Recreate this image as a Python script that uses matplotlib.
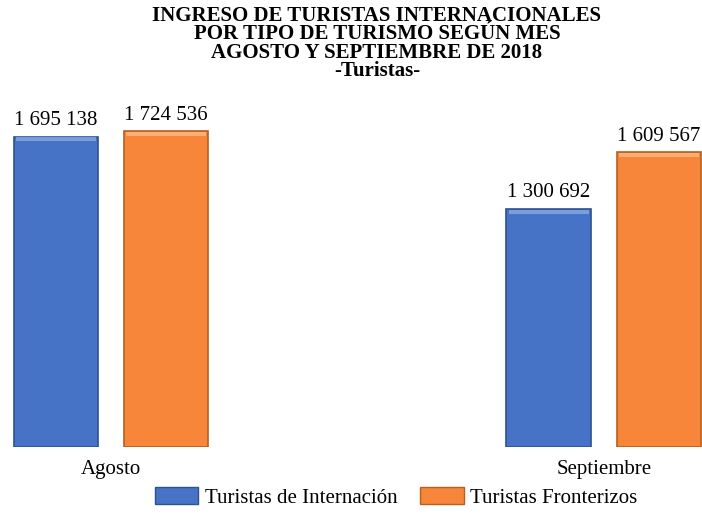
import numpy as np
import matplotlib.pyplot as plt
from matplotlib.patches import Patch

months = ["Agosto", "Septiembre"]
internacion = [1695138, 1300692]
fronterizos = [1724536, 1609567]
series_names = ["Turistas de Internación", "Turistas Fronterizos"]

title = ("INGRESO DE TURISTAS INTERNACIONALES\n"
         "POR TIPO DE TURISMO SEGÚN MES\n"
         "AGOSTO Y SEPTIEMBRE DE 2018\n"
         "-Turistas-")

blue = "#4673C6"
blue_edge = "#2F528F"
orange = "#F8863A"
orange_edge = "#B5601F"

plt.rcParams["font.family"] = ["Liberation Serif", "DejaVu Serif"]


def fmt(v):
    return f"{v:,}".replace(",", " ")


fig = plt.figure(figsize=(7.02, 5.16), dpi=100)
ax = fig.add_axes([0, 0.1337, 1, 0.672])

x = np.arange(len(months))
w = 0.172
off = 0.1116

b1 = ax.bar(x - off, internacion, w, color=blue, edgecolor=blue_edge, linewidth=1.2)
b2 = ax.bar(x + off, fronterizos, w, color=orange, edgecolor=orange_edge, linewidth=1.2)

# light bevel on top of each bar
for bars, vals, hi in [(b1, internacion, "#8FB0E8"), (b2, fronterizos, "#FFC08F")]:
    for rect, v in zip(bars, vals):
        ax.bar(rect.get_x() + rect.get_width() / 2, 22000, rect.get_width() * 0.94,
               bottom=v - 26000, color=hi, linewidth=0, alpha=0.7)
        ax.text(rect.get_x() + rect.get_width() / 2, v + 35000, fmt(v),
                ha="center", va="bottom", fontsize=15)

ax.set_xlim(-0.225, 1.199)
ax.set_ylim(0, 1894000)
ax.set_xticks(x)
ax.set_xticklabels(months, fontsize=15)
ax.tick_params(axis="x", length=0, pad=9)
ax.set_yticks([])
for s in ax.spines.values():
    s.set_visible(False)

fig.text(0.537, 0.988, title, ha="center", va="top", fontsize=15,
         fontweight="bold", linespacing=0.88)

handles = [Patch(facecolor=blue, edgecolor=blue_edge),
           Patch(facecolor=orange, edgecolor=orange_edge)]
fig.legend(handles, series_names, loc="center", bbox_to_anchor=(0.564, 0.036),
           ncol=2, frameon=False, fontsize=15, handlelength=2.1, handleheight=0.9,
           handletextpad=0.3, columnspacing=1.1)

fig.savefig("out.png", dpi=100)
